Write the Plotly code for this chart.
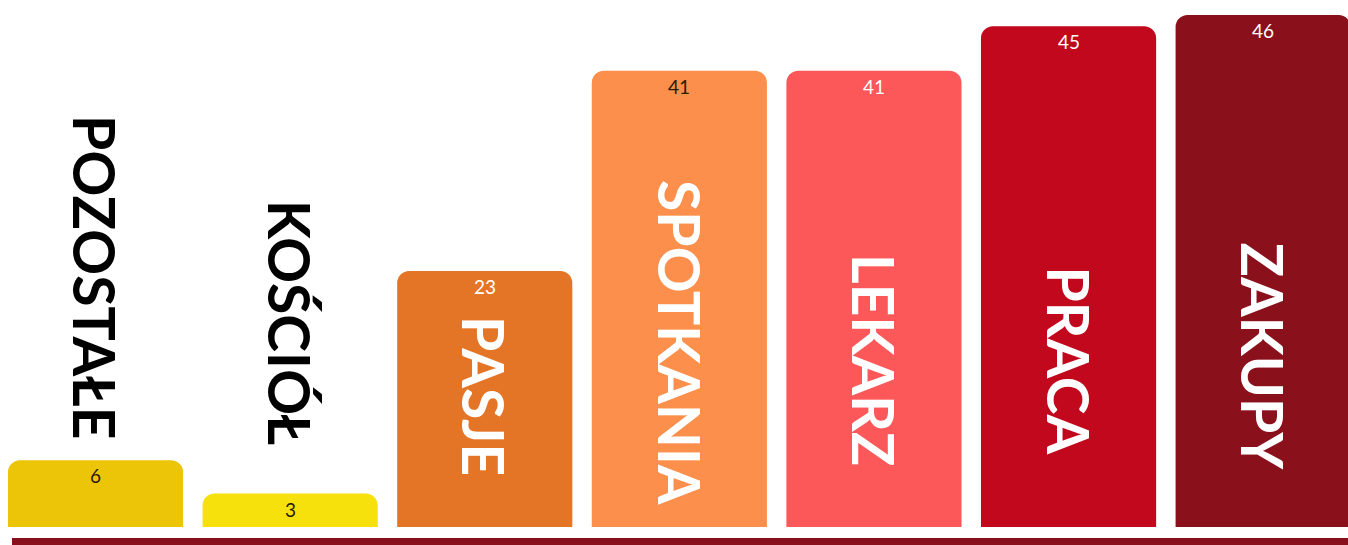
import plotly.graph_objects as go

# ---- data ----
categories = ["POZOSTAŁE", "KOŚCIÓŁ", "PASJE", "SPOTKANIA", "LEKARZ", "PRACA", "ZAKUPY"]
values = [6, 3, 23, 41, 41, 45, 46]

# ---- style ----
bar_colors = ["#ECC508", "#F7E10C", "#E57526", "#FB8F4B", "#FC585A", "#C1081C", "#8A101B"]
value_colors = ["#2A1A05", "#2A1A05", "#FFFFFF", "#2A1A05", "#FFFFFF", "#FFFFFF", "#FFFFFF"]
label_colors = ["#000000", "#000000", "#FFFFFF", "#FFFFFF", "#FFFFFF", "#FFFFFF", "#FFFFFF"]
label_y = [22.5, 18.4, 11.8, 16.6, 15.0, 15.0, 15.3]   # annotation centres (data units)
FONT = "Lato"

fig = go.Figure(go.Bar(
    x=list(range(len(categories))),
    y=values,
    marker=dict(color=bar_colors, cornerradius=12, line=dict(width=0)),
    width=0.9,
    hoverinfo="skip",
))

annotations = []
for i, (cat, v) in enumerate(zip(categories, values)):
    annotations.append(dict(
        x=i, y=v, xref="x", yref="y", text=str(v), showarrow=False,
        yanchor="top", yshift=-2,
        font=dict(family=FONT, size=19, color=value_colors[i]),
    ))
    annotations.append(dict(
        x=i, y=label_y[i], xref="x", yref="y", text=cat,
        showarrow=False, textangle=90, xanchor="center", yanchor="middle",
        font=dict(family=FONT, size=57, color=label_colors[i], weight=700),
    ))

fig.update_layout(
    width=1348, height=545,
    margin=dict(l=0, r=0, t=0, b=18, pad=0),
    paper_bgcolor="white", plot_bgcolor="white",
    showlegend=False,
    xaxis=dict(range=[-0.491, 6.436], visible=False, fixedrange=True),
    yaxis=dict(range=[0, 47.35], visible=False, fixedrange=True),
    annotations=annotations,
    shapes=[dict(
        type="rect", xref="paper", yref="paper",
        x0=12 / 1348, x1=1.0, y0=-0.04, y1=-0.0209,
        fillcolor="#87101C", line=dict(width=0), layer="above",
    )],
)

fig.write_html(
    "out.html",
    config={"displayModeBar": False, "staticPlot": True},
    post_script=(
        "document.body.style.margin='0';"
        "document.body.style.overflow='hidden';"
        "document.documentElement.style.overflow='hidden';"
    ),
)
